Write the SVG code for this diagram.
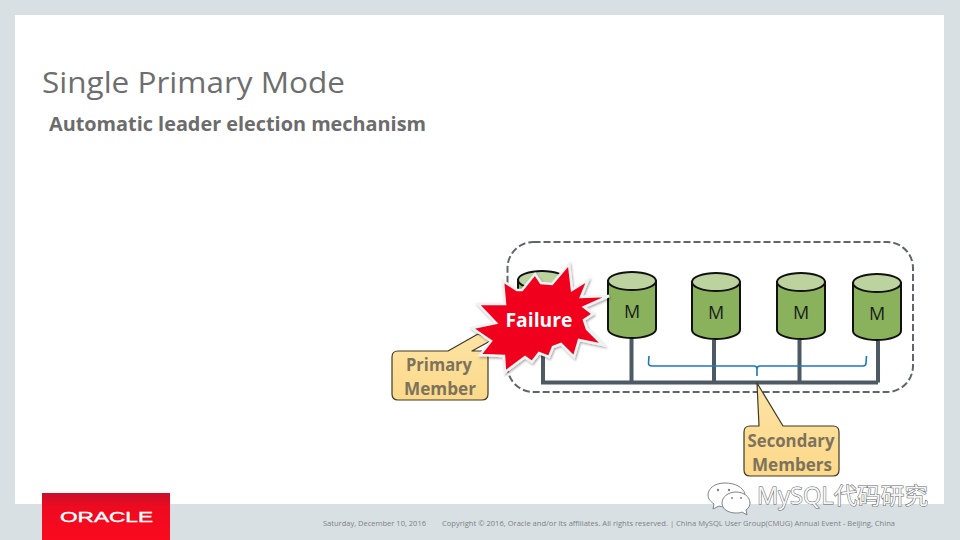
<svg xmlns="http://www.w3.org/2000/svg" width="960" height="540" viewBox="0 0 960 540">
<defs>
<linearGradient id="red" x1="0" y1="0" x2="0" y2="1"><stop offset="0" stop-color="#c9102a"/><stop offset="0.3" stop-color="#ee0a20"/><stop offset="1" stop-color="#fa0a1e"/></linearGradient>
<linearGradient id="call" x1="0" y1="0" x2="0" y2="1"><stop offset="0" stop-color="#fde3a4"/><stop offset="1" stop-color="#fcd98a"/></linearGradient>
<filter id="shadow" x="-10%" y="-10%" width="125%" height="125%"><feDropShadow dx="1" dy="1.500" stdDeviation="1" flood-color="#000" flood-opacity="0.35"/></filter>
<symbol id="cyl" overflow="visible">
<path d="M0 9V57C0 62 11 66 24 66S48 62 48 57V9Z" fill="#8ab25c" stroke="#111" stroke-width="2"/>
<ellipse cx="24" cy="9" rx="24" ry="9" fill="#bcd3a0" stroke="#111" stroke-width="2"/>
</symbol>
</defs>
<style>
text{font-family:"Open Sans","Noto Sans","Liberation Sans",sans-serif}
.m{font-size:18px;fill:#1c1c1c;text-anchor:middle}
.call{font-size:17.500px;font-weight:700;fill:#7d735c;text-anchor:middle}
.wire{fill:none;stroke:#4d5a64;stroke-width:4}
.foot{font-size:7px;fill:#7c8284}
.cb{fill:url(#call);stroke:#3f3a24;stroke-width:1.200;stroke-linejoin:round}
</style>
<rect width="960" height="540" fill="#d9e0e3"/>
<rect x="15" y="15" width="929" height="489" fill="#fff"/>
<g id="title">
<text x="42" y="93" font-size="30" fill="#6e6e6e" textLength="303" lengthAdjust="spacingAndGlyphs">Single Primary Mode</text>
<text x="49" y="131" font-size="20" font-weight="700" fill="#6c6c6c" textLength="377" lengthAdjust="spacingAndGlyphs">Automatic leader election mechanism</text>
</g>
<g id="group-boundary"><rect x="507.500" y="242" width="405.500" height="150" rx="26" fill="none" stroke="#5f666a" stroke-width="2" stroke-dasharray="7 3"/></g>
<g id="connectors">
<path class="wire" d="M543 340V382.500H878M631.500 338V382.500M714 340V382.500M799.500 340V382.500M878 341V382.500"/>
<path id="brace" d="M649 356L648.500 363Q648.500 366 652 366H754Q757 366 757 369V376M757 369Q757 366 760 366H863Q866 366 866 363L866.500 356" fill="none" stroke="#1c78b8" stroke-width="1.600"/>
</g>
<g id="node-primary-db"><use href="#cyl" x="518" y="271"/></g>
<g id="node-m1"><use href="#cyl" x="608" y="272"/><text class="m" x="632" y="318">M</text></g>
<g id="node-m2"><use href="#cyl" x="692" y="273"/><text class="m" x="716" y="319">M</text></g>
<g id="node-m3"><use href="#cyl" x="777" y="273"/><text class="m" x="801" y="319">M</text></g>
<g id="node-m4"><use href="#cyl" x="853" y="274"/><text class="m" x="877" y="320">M</text></g>
<g id="callout-primary">
<path class="cb" d="M398 351H448L478 334L492 340L472 351H482Q488 351 488 357V394Q488 400 482 400H398Q392 400 392 394V357Q392 351 398 351Z"/>
<text class="call" x="439" y="371" textLength="66" lengthAdjust="spacingAndGlyphs">Primary</text>
<text class="call" x="440" y="395" textLength="72" lengthAdjust="spacingAndGlyphs">Member</text>
</g>
<g id="callout-secondary">
<path class="cb" d="M750 426H759L757 383L783 426H833Q839 426 839 432V470Q839 476 833 476H750Q744 476 744 470V432Q744 426 750 426Z"/>
<text class="call" x="791" y="447" textLength="87" lengthAdjust="spacingAndGlyphs">Secondary</text>
<text class="call" x="792" y="471" textLength="80" lengthAdjust="spacingAndGlyphs">Members</text>
</g>
<g id="failure">
<polygon filter="url(#shadow)" points="503,281 517,290 522,290 535,274 541,283 552,284 569,264 572,290 588,280 581,297 609,296 584,307 593,314 584,320 587,329 603,345 579,340 574,357 561,344 553,347 549,357 539,353 532,362 525,357 505,372 504,356 480,355 491,341 472,328 496,323 478,304 505,304" fill="#f0041c" stroke="#f1f3f3" stroke-width="2.500" stroke-linejoin="miter"/>
<text x="539" y="327" font-size="20" font-weight="700" fill="#fff" text-anchor="middle" textLength="67" lengthAdjust="spacingAndGlyphs">Failure</text>
</g>
<g id="logo">
<rect x="42" y="493" width="128" height="47" fill="url(#red)"/>
<text x="60" y="522" font-size="15" fill="#fff" stroke="#fff" stroke-width="0.400" textLength="93" lengthAdjust="spacingAndGlyphs" style="font-family:'Liberation Sans',sans-serif">ORACLE</text>
</g>
<g id="footer">
<text class="foot" x="323" y="526" textLength="103" lengthAdjust="spacingAndGlyphs">Saturday, December 10, 2016</text>
<text class="foot" x="442" y="526" textLength="453" lengthAdjust="spacingAndGlyphs">Copyright © 2016, Oracle and/or its affiliates. All rights reserved.   |  China MySQL User Group(CMUG) Annual Event - Beijing, China</text>
</g>
<g id="watermark">
<g fill="#fff" stroke="#7f8486" stroke-width="1">
<path d="M725 483C714 483 708 489 708 495C708 499 711 502 714 504L713 509L719 506C722 507 725 507 728 507L745 494C743 487 735 483 725 483Z"/>
<path d="M736 492C728 492 722 497 722 503C722 509 728 513 736 513C738 513 740 513 742 512L747 515L746 510C749 508 750 505 750 503C750 497 744 492 736 492Z"/>
</g>
<g fill="#7f8486"><circle cx="718" cy="490" r="1.200"/><circle cx="729" cy="490" r="1.200"/><circle cx="732" cy="498" r="1"/><circle cx="741" cy="498" r="1"/></g>
<text x="757" y="504" font-size="23" fill="#f4f5f5" stroke="#5f6466" stroke-width="1" paint-order="stroke" textLength="171" lengthAdjust="spacingAndGlyphs" style="font-family:'Open Sans','Noto Sans CJK SC',sans-serif">MySQL代码研究</text>
</g>
</svg>
